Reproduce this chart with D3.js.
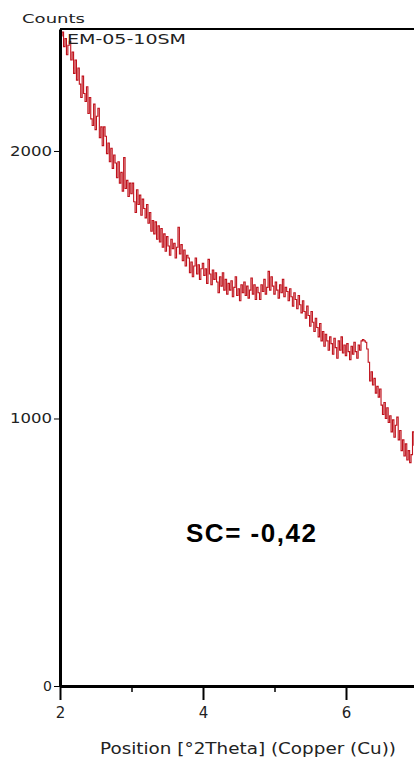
<!DOCTYPE html>
<html><head><meta charset="utf-8">
<script src="https://cdn.jsdelivr.net/npm/d3@7"></script>
<style>html,body{margin:0;padding:0;background:#fff;overflow:hidden}</style>
</head><body><svg id="c" width="414" height="760"></svg>
<script>
// ---- data ----
const xStart = 2.0;
const xStep = 0.02;
const counts = [
  2455,2430,2445,2390,2420, 2360,2395,2410,2340,2370,
  2290,2340,2265,2310,2250, 2200,2280,2215,2185,2240,
  2140,2200,2120,2095,2175, 2080,2130,2160,2050,2090,
  2020,2090,2055,1990,2030, 1960,2010,1935,1985,1955,
  1900,1960,1880,1920,1850, 1975,1860,1890,1830,1880,
  1840,1880,1810,1770,1855, 1800,1835,1760,1820,1785,
  1750,1800,1730,1770,1700, 1740,1690,1735,1670,1720,
  1660,1710,1640,1690,1625, 1680,1645,1610,1670,1635,
  1655,1600,1640,1715,1615, 1650,1590,1630,1570,1610,
  1600,1545,1585,1530,1570, 1600,1540,1575,1520,1560,
  1580,1535,1560,1505,1595, 1540,1500,1555,1520,1545,
  1510,1470,1530,1495,1545, 1480,1520,1465,1505,1480,
  1515,1455,1490,1530,1460, 1485,1440,1500,1470,1510,
  1460,1495,1450,1480,1525, 1465,1500,1445,1490,1470,
  1445,1500,1475,1520,1465, 1490,1550,1480,1530,1495,
  1465,1510,1480,1450,1500, 1470,1520,1455,1490,1475,
  1440,1485,1455,1420,1470, 1445,1410,1460,1425,1395,
  1440,1400,1375,1420,1385, 1345,1400,1360,1325,1375,
  1340,1305,1355,1290,1325, 1270,1315,1290,1255,1305,
  1280,1240,1300,1265,1225, 1290,1255,1305,1245,1275,
  1235,1280,1250,1220,1270, 1240,1285,1250,1225,1275,
  1255,1290,1295,1290,1285, 1260,1210,1140,1175,1125,
  1150,1095,1120,1080,1110, 1050,1015,1060,1000,1040,
  985,1010,950,995,930, 975,1005,920,955,880,
  920,860,905,845,880, 835,865,950,900,930
];
const xTicksMajor = [2, 4, 6];
const xTicksMinor = [3, 5];
const yTicks = [0, 1000, 2000];
const yLabel = "Counts";
const xLabel = "Position [°2Theta] (Copper (Cu))";
const sampleName = "EM-05-10SM";
const annotation = "SC= -0,42";

// ---- chart ----
const svg = d3.select("#c");
const L = 60, T = 29, B = 686, R = 414;
const x = d3.scaleLinear().domain([2, 7]).range([L, L + 5 * 71.5]);
const y = d3.scaleLinear().domain([0, 2456]).range([B, T]);
const data = counts.map((c, i) => ({x: xStart + i * xStep, c}));

svg.append("clipPath").attr("id", "clip").append("rect")
  .attr("x", L).attr("y", T - 2).attr("width", R - L).attr("height", B - T + 2);

svg.append("path").datum(data)
  .attr("clip-path", "url(#clip)")
  .attr("fill", "none").attr("stroke", "#c0121c").attr("stroke-width", 1.1)
  .attr("d", d3.line().x(d => x(d.x)).y(d => y(d.c)).curve(d3.curveStep));

// top border
svg.append("line").attr("x1", L).attr("x2", R).attr("y1", T).attr("y2", T)
  .attr("stroke", "#000").attr("stroke-width", 2);

const font = "'DejaVu Sans', Verdana, sans-serif";

// left axis
const gy = svg.append("g").attr("transform", `translate(${L},0)`)
  .call(d3.axisLeft(y).tickValues(yTicks).tickSize(6).tickPadding(2).tickSizeOuter(0).tickFormat(d3.format("d")));
gy.select(".domain").attr("stroke-width", 3);
gy.selectAll(".tick line").attr("stroke-width", 1);
gy.selectAll(".tick text").attr("font-family", font).attr("font-size", 14)
  .attr("fill", "#222")
  .each(function(d){ if (d >= 1000) d3.select(this).attr("textLength", 42).attr("lengthAdjust", "spacingAndGlyphs"); });

// bottom axis
const gx = svg.append("g").attr("transform", `translate(0,${B})`)
  .call(d3.axisBottom(x).tickValues(xTicksMajor).tickSize(14).tickPadding(7).tickFormat(d3.format("d")).tickSizeOuter(0));
gx.select(".domain").attr("stroke-width", 3);
gx.selectAll(".tick line").attr("stroke-width", 2);
gx.selectAll(".tick text").attr("font-family", font).attr("font-size", 15).attr("fill", "#222");
const gxm = svg.append("g").attr("transform", `translate(0,${B})`)
  .call(d3.axisBottom(x).tickValues(xTicksMinor).tickSize(6).tickFormat(""));
gxm.select(".domain").remove();
gxm.selectAll(".tick line").attr("stroke-width", 1.5);

// texts
svg.append("text").attr("x", 22).attr("y", 23).attr("font-family", font)
  .attr("font-size", 13).attr("textLength", 63).attr("lengthAdjust", "spacingAndGlyphs")
  .attr("fill", "#222").text(yLabel);
svg.append("text").attr("x", 67).attr("y", 44).attr("font-family", font)
  .attr("font-size", 14).attr("textLength", 119).attr("lengthAdjust", "spacingAndGlyphs")
  .attr("fill", "#222").text(sampleName);
svg.append("text").attr("x", 100).attr("y", 754).attr("font-family", font)
  .attr("font-size", 15).attr("textLength", 296).attr("lengthAdjust", "spacingAndGlyphs")
  .attr("fill", "#222").text(xLabel);
svg.append("text").attr("x", 186).attr("y", 542).attr("font-family", "'Liberation Sans', Arial, sans-serif")
  .attr("font-size", 26).attr("font-weight", "bold").attr("textLength", 130)
  .attr("fill", "#000").text(annotation);
</script></body></html>
